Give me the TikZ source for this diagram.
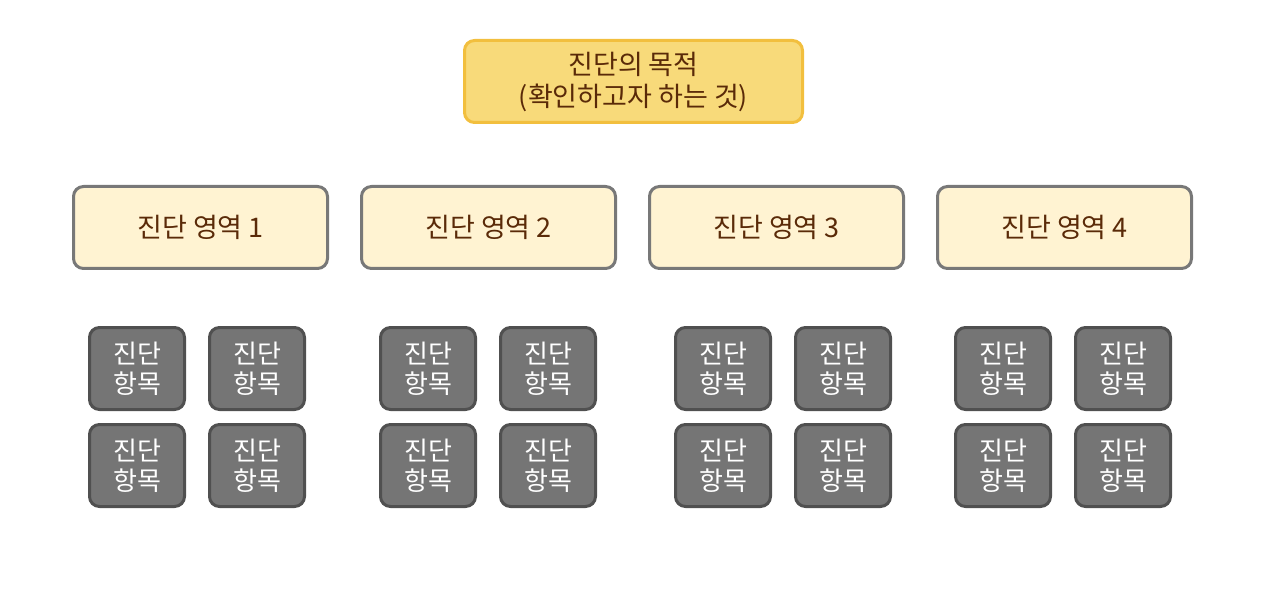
\documentclass[tikz,border=0pt]{standalone}
\usepackage{fontspec}
\setmainfont{Noto Sans CJK KR}
\usetikzlibrary{positioning}
\definecolor{goalfill}{HTML}{F8DA7A}
\definecolor{goaldraw}{HTML}{F2BF3E}
\definecolor{areafill}{HTML}{FFF3D2}
\definecolor{areadraw}{HTML}{787878}
\definecolor{itemfill}{HTML}{757575}
\definecolor{itemdraw}{HTML}{505050}
\definecolor{brownText}{HTML}{5A2A08}
\tikzset{
    goal/.style ={
        shape=rectangle,
        rounded corners=10pt,
        draw=goaldraw,
        fill=goalfill,
        line width=3pt,
        text=brownText,
        align=center,
        inner sep=0pt,
        font=\fontsize{27}{32}\selectfont,
        minimum width=338pt,
        minimum height=82pt
    },
    area/.style ={
        shape=rectangle,
        rounded corners=10pt,
        draw=areadraw,
        fill=areafill,
        line width=3pt,
        text=brownText,
        inner sep=0pt,
        font=\fontsize{27}{30}\selectfont,
        minimum width=254pt,
        minimum height=82pt
    },
    item/.style ={
        shape=rectangle,
        rounded corners=10pt,
        draw=itemdraw,
        fill=itemfill,
        line width=3pt,
        text=white,
        align=center,
        inner sep=0pt,
        font=\fontsize{26}{30}\selectfont,
        minimum width=95pt,
        minimum height=82pt
    }
}

\begin{document}
\begin{tikzpicture}[x=1pt,y=1pt]
    \useasboundingbox (0,0) rectangle (1280,590);
    \node[goal] (goal) at (633.5,508.5) {진단의 목적\\(확인하고자 하는 것)};
    \node[area] (a1) at (200.5,362.5) {진단 영역 1};
    \node[area] (a2) at (488.5,362.5) {진단 영역 2};
    \node[area] (a3) at (776.5,362.5) {진단 영역 3};
    \node[area] (a4) at (1064.5,362.5) {진단 영역 4};
    % area 1
    \node[item,below=56pt of a1,xshift=-63.5pt] (a1i1) {진단\\항목};
    \node[item,right=22pt of a1i1] (a1i2) {진단\\항목};
    \node[item,below=12pt of a1i1] (a1i3) {진단\\항목};
    \node[item,below=12pt of a1i2] (a1i4) {진단\\항목};
    % area 2
    \node[item,below=56pt of a2,xshift=-60.5pt] (a2i1) {진단\\항목};
    \node[item,right=22pt of a2i1] (a2i2) {진단\\항목};
    \node[item,below=12pt of a2i1] (a2i3) {진단\\항목};
    \node[item,below=12pt of a2i2] (a2i4) {진단\\항목};
    % area 3
    \node[item,below=56pt of a3,xshift=-53.5pt] (a3i1) {진단\\항목};
    \node[item,right=22pt of a3i1] (a3i2) {진단\\항목};
    \node[item,below=12pt of a3i1] (a3i3) {진단\\항목};
    \node[item,below=12pt of a3i2] (a3i4) {진단\\항목};
    % area 4
    \node[item,below=56pt of a4,xshift=-61.5pt] (a4i1) {진단\\항목};
    \node[item,right=22pt of a4i1] (a4i2) {진단\\항목};
    \node[item,below=12pt of a4i1] (a4i3) {진단\\항목};
    \node[item,below=12pt of a4i2] (a4i4) {진단\\항목};
\end{tikzpicture}
\end{document}
